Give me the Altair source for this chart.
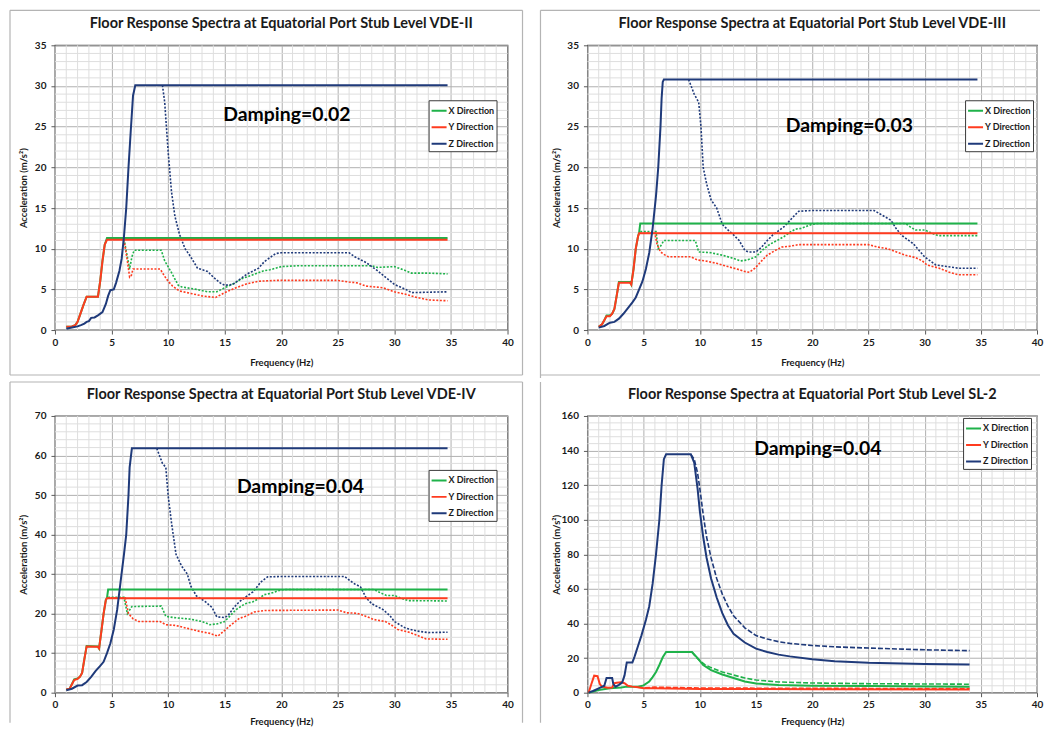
import altair as alt
import pandas as pd

FONT = "Lato"
DIRS = ["X Direction", "Y Direction", "Z Direction"]
COLORS = ["#1fb24a", "#ff3b1f", "#1f3a7a"]
FREQ_TICKS = [0, 5, 10, 15, 20, 25, 30, 35, 40]

# ---------------- Panel 1 : VDE-II (damping 0.02) ----------------
P1_X_SOLID = [(1.0, 0.4), (1.5, 0.45), (1.8, 0.6), (2.0, 1.0), (2.2, 1.8), (2.5, 3.0), (2.8, 4.1), (3.8, 4.1),
              (4.0, 6.0), (4.2, 8.5), (4.4, 10.5), (4.6, 11.3), (34.7, 11.3)]
P1_Y_SOLID = [(1.0, 0.4), (1.5, 0.45), (1.8, 0.6), (2.0, 1.0), (2.2, 1.8), (2.5, 3.0), (2.8, 4.1), (3.8, 4.1),
              (4.0, 6.0), (4.2, 8.5), (4.4, 10.5), (4.6, 11.1), (34.7, 11.1)]
P1_Z_SOLID = [(1.0, 0.15), (1.5, 0.3), (2.0, 0.45), (2.3, 0.6), (2.6, 0.8), (2.8, 1.0), (3.0, 1.1), (3.2, 1.5),
              (3.5, 1.55), (3.8, 1.8), (4.2, 2.2), (4.5, 3.2), (4.7, 4.2), (4.9, 4.9), (5.2, 5.0), (5.4, 5.8),
              (5.7, 7.3), (5.9, 8.8), (6.1, 11.5), (6.3, 15.0), (6.5, 20.0), (6.7, 24.5), (6.9, 28.8), (7.1, 30.1),
              (34.7, 30.1)]
P1_X_DOT = [(6.1, 11.2), (6.4, 9.0), (6.6, 7.5), (6.8, 9.0), (7.0, 9.8), (9.4, 9.8), (9.7, 8.5), (10.0, 7.8),
            (10.4, 6.8), (10.9, 5.5), (11.2, 5.3), (12.5, 5.0), (13.5, 4.7), (14.3, 4.7), (15.0, 5.2), (15.8, 5.7),
            (16.5, 6.3), (17.5, 6.8), (18.5, 7.3), (19.0, 7.4), (20.0, 7.8), (21.5, 7.9), (28.0, 7.9), (28.5, 7.7),
            (30.0, 7.8), (31.0, 7.3), (31.5, 7.0), (33.0, 7.0), (34.7, 6.9)]
P1_Y_DOT = [(6.1, 11.1), (6.4, 8.5), (6.6, 6.5), (6.75, 6.7), (6.9, 7.5), (9.3, 7.5), (9.7, 6.6), (10.0, 6.0),
            (10.4, 5.4), (11.0, 4.8), (12.0, 4.5), (13.0, 4.2), (14.2, 4.0), (15.0, 4.6), (16.0, 5.2), (17.0, 5.7),
            (18.0, 6.0), (19.5, 6.1), (25.0, 6.1), (26.0, 5.9), (26.7, 5.8), (27.5, 5.4), (29.0, 5.2), (30.0, 4.7),
            (31.0, 4.4), (32.0, 4.0), (33.0, 3.7), (34.7, 3.6)]
P1_Z_DOT = [(9.5, 30.1), (9.7, 28.0), (10.0, 22.0), (10.3, 17.0), (10.6, 14.0), (11.0, 11.8), (11.5, 10.0),
            (12.0, 9.0), (12.6, 7.6), (13.5, 7.2), (14.0, 6.5), (14.6, 5.8), (15.0, 5.5), (15.7, 5.6), (16.5, 6.4),
            (17.0, 6.9), (18.0, 7.6), (18.5, 8.4), (19.5, 9.4), (20.0, 9.5), (26.0, 9.5), (26.5, 9.0), (27.5, 8.3),
            (28.5, 7.3), (30.0, 5.6), (31.0, 5.0), (31.5, 4.6), (34.7, 4.7)]

# ---------------- Panel 2 : VDE-III (damping 0.03) ----------------
P2_X_SOLID = [(1.0, 0.4), (1.3, 0.7), (1.5, 1.2), (1.7, 1.8), (2.0, 1.8), (2.2, 2.0), (2.4, 2.6), (2.6, 4.2),
              (2.8, 5.9), (3.8, 5.9), (3.9, 5.6), (4.1, 7.5), (4.3, 10.0), (4.5, 11.5), (4.6, 12.0), (4.7, 13.1),
              (34.7, 13.1)]
P2_Y_SOLID = [(1.0, 0.4), (1.3, 0.7), (1.5, 1.2), (1.7, 1.7), (2.0, 1.7), (2.2, 2.0), (2.4, 2.6), (2.6, 4.2),
              (2.8, 5.8), (3.8, 5.8), (3.9, 5.6), (4.1, 7.5), (4.3, 10.0), (4.5, 11.5), (4.6, 11.9), (34.7, 11.9)]
P2_Z_SOLID = [(1.0, 0.3), (1.5, 0.5), (2.0, 0.9), (2.4, 1.0), (2.8, 1.4), (3.2, 2.0), (3.6, 2.7), (4.0, 3.4),
              (4.3, 4.0), (4.6, 5.0), (4.9, 6.0), (5.2, 7.5), (5.5, 9.5), (5.8, 12.5), (6.1, 16.5), (6.3, 20.0),
              (6.5, 25.0), (6.6, 28.5), (6.7, 30.5), (6.8, 30.8), (34.7, 30.8)]
P2_X_DOT = [(4.7, 12.1), (6.1, 12.1), (6.3, 10.0), (6.5, 10.3), (6.8, 11.0), (9.6, 11.0), (9.9, 9.6), (11.0, 9.5),
            (12.0, 9.2), (13.0, 8.8), (13.6, 8.5), (14.2, 8.6), (15.0, 9.0), (15.7, 10.0), (16.3, 10.6), (17.0, 11.1),
            (17.5, 11.5), (18.0, 12.0), (18.5, 12.4), (19.0, 12.5), (20.0, 13.0), (20.5, 13.1), (28.3, 13.1),
            (28.8, 12.6), (29.2, 12.3), (30.0, 12.3), (30.5, 12.0), (31.2, 11.6), (34.7, 11.6)]
P2_Y_DOT = [(4.6, 11.9), (6.0, 11.9), (6.2, 10.5), (6.5, 9.6), (6.8, 9.3), (7.2, 9.0), (9.2, 9.0), (9.8, 8.6),
            (10.5, 8.5), (11.5, 8.2), (12.5, 7.8), (13.3, 7.5), (14.0, 7.2), (14.4, 7.1), (14.9, 7.6), (15.5, 8.5),
            (16.0, 9.2), (16.6, 9.7), (17.3, 10.2), (18.0, 10.3), (18.8, 10.5), (25.0, 10.5), (25.8, 10.2),
            (26.7, 10.0), (27.5, 9.6), (28.3, 9.2), (29.2, 8.9), (29.8, 8.5), (30.2, 8.0), (31.3, 7.6), (32.2, 7.1),
            (33.0, 6.8), (34.7, 6.8)]
P2_Z_DOT = [(9.0, 30.8), (9.5, 29.0), (9.9, 28.0), (10.1, 25.0), (10.3, 20.0), (10.6, 18.0), (11.0, 16.0),
            (11.5, 15.0), (12.0, 13.0), (12.5, 12.3), (13.0, 11.7), (13.5, 11.0), (14.0, 9.8), (14.3, 9.6),
            (15.0, 9.6), (15.5, 10.2), (16.0, 11.0), (16.5, 11.7), (17.0, 12.2), (17.5, 12.7), (18.3, 13.9),
            (18.8, 14.6), (20.0, 14.7), (25.5, 14.7), (26.0, 14.3), (26.5, 13.9), (27.0, 13.5), (27.5, 12.4),
            (28.0, 11.6), (29.0, 10.6), (30.0, 9.0), (31.0, 8.0), (32.0, 7.8), (33.0, 7.6), (34.7, 7.6)]

# ---------------- Panel 3 : VDE-IV (damping 0.04) ----------------
P3_X_SOLID = [(1.0, 0.8), (1.3, 1.0), (1.7, 3.4), (2.0, 3.6), (2.2, 4.0), (2.4, 5.0), (2.6, 8.5), (2.8, 11.8),
              (3.8, 11.7), (3.9, 11.2), (4.1, 15.5), (4.3, 20.0), (4.5, 23.5), (4.6, 24.0), (4.7, 26.1), (34.7, 26.1)]
P3_Y_SOLID = [(1.0, 0.8), (1.3, 1.0), (1.7, 3.2), (2.0, 3.5), (2.2, 4.0), (2.4, 5.0), (2.6, 8.5), (2.8, 11.7),
              (3.8, 11.6), (3.9, 11.2), (4.1, 15.5), (4.3, 20.0), (4.5, 23.5), (4.6, 23.9), (34.7, 23.9)]
P3_Z_SOLID = [(1.0, 0.6), (1.5, 1.0), (2.0, 1.8), (2.4, 1.9), (2.8, 2.7), (3.2, 4.0), (3.6, 5.5), (4.0, 6.8),
              (4.3, 7.8), (4.6, 10.0), (4.9, 12.5), (5.2, 16.0), (5.5, 21.0), (5.8, 28.0), (6.1, 35.0), (6.3, 40.0),
              (6.5, 50.0), (6.6, 57.0), (6.8, 61.8), (34.7, 61.8)]
P3_X_DOT = [(4.7, 24.1), (6.1, 24.1), (6.4, 20.0), (6.8, 21.8), (9.4, 21.9), (9.8, 19.3), (10.5, 19.0),
            (12.0, 18.6), (13.0, 18.0), (13.7, 17.2), (14.3, 17.4), (15.0, 18.0), (15.5, 19.5), (16.0, 21.0),
            (16.8, 22.5), (17.5, 23.0), (18.0, 23.8), (18.5, 24.8), (19.0, 25.1), (20.0, 26.0), (20.5, 26.1),
            (28.2, 26.1), (28.8, 25.2), (29.3, 24.6), (30.0, 24.6), (30.5, 24.0), (31.2, 23.3), (34.7, 23.2)]
P3_Y_DOT = [(4.6, 24.0), (6.2, 24.0), (6.5, 20.0), (6.9, 18.7), (7.4, 18.0), (9.3, 18.0), (9.8, 17.2),
            (10.7, 17.0), (11.8, 16.2), (12.8, 15.5), (13.7, 15.0), (14.4, 14.3), (14.9, 15.5), (15.5, 17.0),
            (16.3, 18.8), (16.8, 19.3), (17.6, 20.4), (18.6, 20.8), (25.0, 20.9), (25.8, 20.2), (26.7, 20.1),
            (27.5, 19.3), (28.2, 18.5), (29.2, 18.0), (29.8, 17.0), (30.3, 16.0), (31.3, 15.3), (32.2, 14.3),
            (32.8, 13.6), (34.7, 13.5)]
P3_Z_DOT = [(9.0, 61.8), (9.5, 58.0), (9.8, 57.0), (10.0, 50.0), (10.3, 43.0), (10.7, 35.0), (11.2, 32.0),
            (11.7, 30.0), (12.0, 27.0), (12.5, 24.5), (13.3, 23.0), (13.9, 21.5), (14.3, 19.2), (15.0, 19.0),
            (15.3, 19.5), (15.8, 21.5), (16.3, 23.0), (17.0, 24.5), (17.5, 25.5), (18.2, 28.0), (18.8, 29.3),
            (20.0, 29.4), (25.6, 29.4), (26.0, 28.5), (26.5, 27.5), (27.0, 26.8), (27.5, 24.0), (28.0, 22.5),
            (29.0, 21.0), (29.6, 19.5), (30.0, 18.0), (31.0, 16.3), (32.0, 15.6), (33.0, 15.2), (34.7, 15.3)]

# ---------------- Panel 4 : SL-2 (damping 0.04) ----------------
P4_X_SOLID = [(0.1, 0.0), (1.0, 1.5), (2.0, 2.5), (3.0, 3.0), (3.5, 3.5), (4.5, 3.5), (5.0, 4.2), (5.5, 6.5),
              (5.8, 9.0), (6.1, 12.0), (6.4, 16.0), (6.7, 20.5), (7.0, 23.5), (9.3, 23.5), (9.8, 20.0), (10.3, 16.0),
              (11.0, 13.0), (12.0, 10.5), (13.0, 8.5), (14.0, 6.5), (15.0, 5.3), (17.0, 4.5), (20.0, 4.0),
              (25.0, 3.8), (34.0, 3.5)]
P4_Y_SOLID = [(0.1, 0.0), (0.35, 5.0), (0.6, 9.8), (0.9, 9.5), (1.1, 5.0), (1.3, 3.5), (1.8, 2.8), (2.2, 3.0),
              (2.4, 5.5), (2.6, 5.8), (3.0, 6.0), (3.3, 5.5), (3.6, 4.0), (4.0, 3.5), (4.5, 3.2), (5.0, 2.6),
              (6.0, 2.5), (10.0, 2.2), (20.0, 2.0), (34.0, 1.8)]
P4_Z_SOLID = [(0.1, 0.0), (0.5, 1.0), (1.0, 2.5), (1.5, 4.0), (1.7, 8.5), (2.2, 8.5), (2.3, 5.0), (2.5, 3.5),
              (2.8, 4.5), (3.1, 6.0), (3.3, 10.0), (3.5, 17.5), (4.0, 17.5), (4.2, 21.0), (4.5, 27.0), (4.8, 33.0),
              (5.2, 42.0), (5.5, 50.0), (5.8, 63.0), (6.1, 80.0), (6.4, 100.0), (6.6, 120.0), (6.8, 135.0),
              (7.0, 137.8), (9.2, 137.8), (9.5, 133.0), (9.8, 118.0), (10.0, 105.0), (10.3, 90.0), (10.6, 78.0),
              (11.0, 66.0), (11.5, 55.0), (12.0, 46.0), (12.5, 39.0), (13.0, 34.0), (14.0, 29.0), (15.0, 25.5),
              (16.0, 23.5), (17.0, 22.0), (18.0, 21.0), (20.0, 19.3), (22.0, 18.2), (25.0, 17.3), (28.0, 16.9),
              (30.0, 16.6), (34.0, 16.3)]
P4_X_DASH = [(9.3, 23.5), (9.6, 21.0), (10.0, 18.5), (10.5, 16.0), (11.0, 14.5), (12.0, 12.0), (13.0, 10.2),
             (14.0, 8.5), (15.0, 7.3), (17.0, 6.2), (20.0, 5.6), (25.0, 5.2), (34.0, 4.9)]
P4_Y_DASH = [(4.5, 3.2), (5.0, 2.8), (6.0, 3.2), (10.0, 2.7), (20.0, 2.5), (34.0, 2.4)]
P4_Z_DASH = [(9.2, 137.8), (9.5, 135.0), (9.8, 127.0), (10.0, 118.0), (10.3, 103.0), (10.6, 90.0), (11.0, 78.0),
             (11.5, 66.0), (12.0, 57.0), (12.5, 50.0), (13.0, 44.5), (14.0, 37.5), (15.0, 33.0), (16.0, 31.0),
             (17.0, 29.5), (18.0, 28.5), (20.0, 27.3), (22.0, 26.5), (25.0, 25.8), (28.0, 25.2), (30.0, 24.8),
             (34.0, 24.3)]

TITLES = ["Floor Response Spectra at Equatorial Port Stub Level VDE-II",
          "Floor Response Spectra at Equatorial Port Stub Level VDE-III",
          "Floor Response Spectra at Equatorial Port Stub Level VDE-IV",
          "Floor Response Spectra at Equatorial Port Stub Level SL-2"]
DAMPING = ["Damping=0.02", "Damping=0.03", "Damping=0.04", "Damping=0.04"]
DAMPING_AT = [(20.5, 26.4), (23.3, 25.1), (21.7, 52.1), (20.5, 140.9)]
Y_MAX = [35, 35, 70, 160]
Y_STEP = [5, 5, 10, 20]
Y_MINOR = [1, 1, 2, 4]
SOLID = [[P1_X_SOLID, P1_Y_SOLID, P1_Z_SOLID], [P2_X_SOLID, P2_Y_SOLID, P2_Z_SOLID],
         [P3_X_SOLID, P3_Y_SOLID, P3_Z_SOLID], [P4_X_SOLID, P4_Y_SOLID, P4_Z_SOLID]]
BROKEN = [[P1_X_DOT, P1_Y_DOT, P1_Z_DOT], [P2_X_DOT, P2_Y_DOT, P2_Z_DOT],
          [P3_X_DOT, P3_Y_DOT, P3_Z_DOT], [P4_X_DASH, P4_Y_DASH, P4_Z_DASH]]

# ---------------- styling / layout ----------------
FRAME = "#b4b4b4"
MAJOR = "#b0b0b0"
MINOR = "#dedede"
ONE = pd.DataFrame({"k": [0]})


def to_df(series_list):
    rows = []
    for i, pts in enumerate(series_list):
        for f, a in pts:
            rows.append({"f": f, "a": a, "d": DIRS[i], "s": str(i)})
    return pd.DataFrame(rows)


def vline(x, y1, y2):
    return alt.Chart(ONE).mark_rule(color=FRAME, strokeWidth=1.2).encode(
        x=alt.value(x), y=alt.value(y1), y2=alt.value(y2))


def hline(y, x1, x2):
    return alt.Chart(ONE).mark_rule(color=FRAME, strokeWidth=1.2).encode(
        y=alt.value(y), x=alt.value(x1), x2=alt.value(x2))


def panel(i, w, h, legend_xy, frame, dash, title_y_off):
    xs = alt.Scale(domain=[0, 40], nice=False)
    ys = alt.Scale(domain=[0, Y_MAX[i]], nice=False)
    cs = alt.Scale(domain=DIRS, range=COLORS)
    xaxis = alt.Axis(values=FREQ_TICKS, title="Frequency (Hz)", grid=True, gridColor=MAJOR, gridWidth=1,
                     domain=False, tickSize=4, tickColor="#595959", labelFont=FONT, labelFontSize=10,
                     labelFontWeight="bold", labelColor="#1a1a1a", labelPadding=3, labelFlush=False,
                     labelOverlap=False,
                     titleFont=FONT, titleFontSize=9.5, titleFontWeight="bold", titleColor="#1a1a1a",
                     titleX=w / 2, titleY=title_y_off, titleBaseline="middle", titleAlign="center")
    yaxis = alt.Axis(values=list(range(0, Y_MAX[i] + 1, Y_STEP[i])), title="Acceleration (m/s²)", grid=True,
                     gridColor=MAJOR, gridWidth=1, domain=False, tickSize=4, tickColor="#595959",
                     labelFont=FONT, labelFontSize=10, labelFontWeight="bold", labelColor="#1a1a1a",
                     labelPadding=5, labelFlush=False, labelOverlap=False,
                     titleFont=FONT, titleFontSize=9.5, titleFontWeight="bold",
                     titleColor="#1a1a1a", titleX=-31, titleY=h / 2, titleAngle=270, titleAlign="center",
                     titleBaseline="middle")
    legend = alt.Legend(
        orient="none", legendX=legend_xy[0], legendY=legend_xy[1], title=None, symbolType="stroke",
        symbolStrokeWidth=2, symbolSize=225, symbolDash=[1, 0], labelFont=FONT, labelFontSize=9,
        labelFontWeight="bold", labelColor="#1a1a1a", strokeColor="#3a3a3a", fillColor="white", padding=2,
        rowPadding=2.5, labelOffset=1)
    X = alt.X("v:Q", scale=xs, axis=xaxis)
    Y = alt.Y("v:Q", scale=ys, axis=yaxis)

    xminor = pd.DataFrame({"v": [v for v in range(1, 40) if v % 5]})
    ym = Y_MINOR[i]
    yminor = pd.DataFrame({"v": [v for v in range(ym, Y_MAX[i], ym) if v % Y_STEP[i]]})
    gx = alt.Chart(xminor).mark_rule(color=MINOR, strokeWidth=1).encode(x=X)
    gy = alt.Chart(yminor).mark_rule(color=MINOR, strokeWidth=1).encode(y=Y)

    broken = alt.Chart(to_df(BROKEN[i])).mark_line(strokeWidth=1.6, strokeDash=dash).encode(
        x=alt.X("f:Q", scale=xs, axis=xaxis),
        y=alt.Y("a:Q", scale=ys, axis=yaxis),
        color=alt.Color("d:N", scale=cs, legend=legend),
        detail="s:N", order=alt.Order("f:Q"))
    solid = alt.Chart(to_df(SOLID[i])).mark_line(strokeWidth=2).encode(
        x=alt.X("f:Q", scale=xs, axis=xaxis),
        y=alt.Y("a:Q", scale=ys, axis=yaxis),
        color=alt.Color("d:N", scale=cs, legend=legend),
        detail="s:N", order=alt.Order("f:Q"))

    dx, dy = DAMPING_AT[i]
    damp = alt.Chart(pd.DataFrame({"f": [dx], "a": [dy], "t": [DAMPING[i]]})).mark_text(
        font=FONT, fontSize=19.4, fontWeight="bold", color="black", align="center", baseline="middle").encode(
        x=alt.X("f:Q", scale=xs, axis=xaxis), y=alt.Y("a:Q", scale=ys, axis=yaxis), text="t:N")
    title = alt.Chart(ONE).mark_text(font=FONT, fontSize=14.5, fontWeight="bold", color="#1a1a1a",
                                     align="center", baseline="middle").encode(
        x=alt.value(w / 2), y=alt.value(-21), text=alt.value(TITLES[i]))

    layers = [gx, gy, broken, solid, damp, title] + frame
    return alt.layer(*layers).properties(width=w, height=h)


W1, W2 = 453, 450
H1, H2 = 285, 277

p1 = panel(0, W1, H1, (374, 55),
           [vline(-45, -35, H1 + 45), vline(W1 + 15, -35, H1 + 45),
            hline(-35, -45, W1 + 15), hline(H1 + 45, -45, W1 + 15)], [2, 1.6], 32)
p2 = panel(1, W2, H1, (378, 55),
           [vline(-47, -35, H1 + 48), hline(-35, -47, W2 + 3), hline(H1 + 45, -47, W2 + 3)], [2, 1.6], 32)
p3 = panel(2, W1, H2, (374, 54),
           [vline(-45, -34, H2 + 30), vline(W1 + 15, -34, H2 + 30), hline(-34, -45, W1 + 15)], [2, 1.6], 29)
p4 = panel(3, W2, H2, (376, 2),
           [vline(-47, -34, H2 + 30)], [5, 2], 29)

row1 = alt.hconcat(p1, p2, spacing=14).resolve_scale(color="independent")
row2 = alt.hconcat(p3, p4, spacing=14).resolve_scale(color="independent")
chart = alt.vconcat(row1, row2, spacing=0).resolve_scale(color="independent").properties(
    padding=0, background="white"
).configure_view(stroke="#505050", strokeWidth=1.3)

chart.save("out.html", embed_options={"renderer": "svg", "actions": False})
